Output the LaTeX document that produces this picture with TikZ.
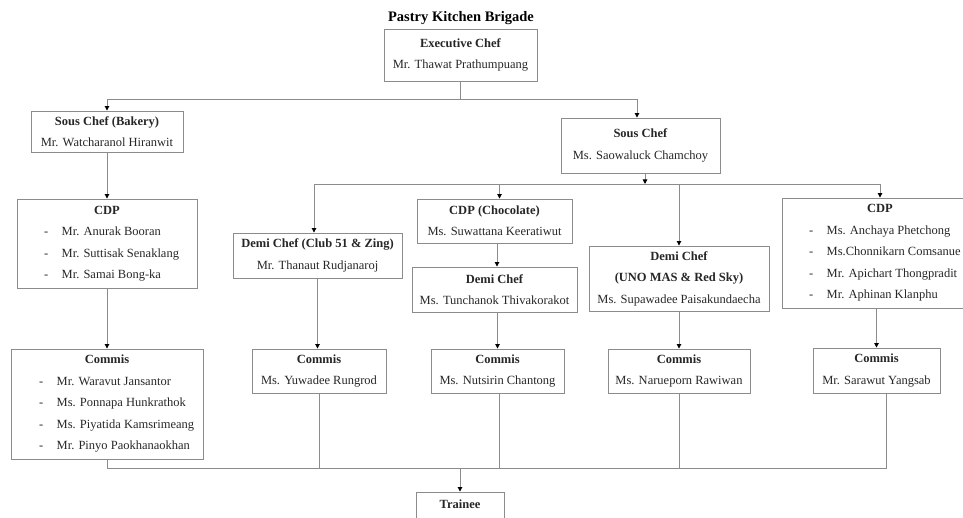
\documentclass[tikz,border=0pt]{standalone}
\usepackage{fontspec}
\setmainfont{Liberation Serif}
\usepackage{tikz}
\usetikzlibrary{arrows.meta}
\tikzstyle{role}=[rectangle, draw=black!45, line width=0.9pt, align=center, inner sep=0pt, text=black!85, font=\fontsize{12.5}{21.5}\selectfont]
\tikzstyle{link}=[draw=black!45, line width=0.9pt]
\tikzstyle{feed}=[link, -{Triangle[length=4.5pt, width=4.5pt, color=black]}]
\newcommand{\member}[2]{\makebox[#1][l]{-\hspace{13.5pt}#2}}

\begin{document}
\begin{tikzpicture}[x=1pt, y=-1pt]
      \useasboundingbox (0,0) rectangle (963,518);
      \clip (0,0) rectangle (963,518);

      \node (title) at (461,22) [anchor=base, font=\fontsize{14.5}{17}\selectfont\bfseries] {Pastry Kitchen Brigade};

      % top of the brigade
      \node[role] (exec) at (460.5,55) [minimum width=153pt, minimum height=52pt] {\textbf{Executive Chef}\\Mr. Thawat Prathumpuang};
      \node[role] (sousB) at (107,131.5) [minimum width=152pt, minimum height=41pt] {\textbf{Sous Chef (Bakery)}\\Mr. Watcharanol Hiranwit};
      \node[role] (sous) at (640.5,145.5) [minimum width=159pt, minimum height=55pt] {\textbf{Sous Chef}\\Ms. Saowaluck Chamchoy};

      % chefs de partie and demi chefs
      \node[role] (cdpB) at (107,243.5) [minimum width=180pt, minimum height=89pt] {\textbf{CDP}\\\member{126pt}{Mr. Anurak Booran}\\\member{126pt}{Mr. Suttisak Senaklang}\\\member{126pt}{Mr. Samai Bong-ka}};
      \node[role] (demiClub) at (317.5,255.5) [minimum width=169pt, minimum height=45pt] {\textbf{Demi Chef (Club 51 \& Zing)}\\Mr. Thanaut Rudjanaroj};
      \node[role] (cdpChoc) at (494.5,221) [minimum width=155pt, minimum height=44pt] {\textbf{CDP (Chocolate)}\\Ms. Suwattana Keeratiwut};
      \node[role] (demiChoc) at (494.5,289.5) [minimum width=165pt, minimum height=45pt] {\textbf{Demi Chef}\\Ms. Tunchanok Thivakorakot};
      \node[role] (demiUno) at (679,278.5) [minimum width=180pt, minimum height=65pt] {\textbf{Demi Chef}\\\textbf{(UNO MAS \& Red Sky)}\\Ms. Supawadee Paisakundaecha};
      \node[role] (cdpR) at (880,253) [minimum width=196pt, minimum height=110pt] {\textbf{CDP}\\\member{142pt}{Ms. Anchaya Phetchong}\\\member{142pt}{Ms.Chonnikarn Comsanue}\\\member{142pt}{Mr. Apichart Thongpradit}\\\member{142pt}{Mr. Aphinan Klanphu}};

      % commis row
      \node[role] (comB) at (107,404) [minimum width=192pt, minimum height=110pt] {\textbf{Commis}\\\member{136pt}{Mr. Waravut Jansantor}\\\member{136pt}{Ms. Ponnapa Hunkrathok}\\\member{136pt}{Ms. Piyatida Kamsrimeang}\\\member{136pt}{Mr. Pinyo Paokhanaokhan}};
      \node[role] (comClub) at (319,371) [minimum width=134pt, minimum height=44pt] {\textbf{Commis}\\Ms. Yuwadee Rungrod};
      \node[role] (comChoc) at (497.5,371) [minimum width=133pt, minimum height=44pt] {\textbf{Commis}\\Ms. Nutsirin Chantong};
      \node[role] (comUno) at (679,371) [minimum width=142pt, minimum height=44pt] {\textbf{Commis}\\Ms. Narueporn Rawiwan};
      \node[role] (comR) at (876.5,370.5) [minimum width=127pt, minimum height=45pt] {\textbf{Commis}\\Mr. Sarawut Yangsab};

      \node[role] (trainee) at (460,514) [minimum width=88pt, minimum height=44pt, text height=8.6pt, text depth=20.6pt] {\textbf{Trainee}};

      % connectors
      \coordinate (topbus) at (460.5,99);
      \coordinate (midbus) at (645,184);
      \coordinate (lowbus) at (460,468);

      \draw[link] (exec.south) -- (topbus);
      \draw[feed] (topbus) -| (sousB.north);
      \draw[feed] (topbus) -| ([xshift=-3.5pt]sous.north);
      \draw[feed] (sousB.south) -- (cdpB.north);

      \draw[feed] (sous.south -| midbus) -- (midbus);
      \draw[link] ([xshift=-3.5pt]demiClub.north |- midbus) -- (cdpR.north |- midbus);
      \draw[feed] ([xshift=-3.5pt]demiClub.north |- midbus) -- ([xshift=-3.5pt]demiClub.north);
      \draw[feed] ([xshift=5pt]cdpChoc.north |- midbus) -- ([xshift=5pt]cdpChoc.north);
      \draw[feed] (demiUno.north |- midbus) -- (demiUno.north);
      \draw[feed] (cdpR.north |- midbus) -- (cdpR.north);

      \draw[feed] ([xshift=2.5pt]cdpChoc.south) -- ([xshift=2.5pt]cdpChoc.south |- demiChoc.north);
      \draw[feed] (cdpB.south) -- (comB.north);
      \draw[feed] (demiClub.south) -- (demiClub.south |- comClub.north);
      \draw[feed] (comChoc.north |- demiChoc.south) -- (comChoc.north);
      \draw[feed] (demiUno.south) -- (comUno.north);
      \draw[feed] (comR.north |- cdpR.south) -- (comR.north);

      \draw[link] (comB.south) |- ([xshift=10pt]comR.south |- lowbus) -- ([xshift=10pt]comR.south);
      \draw[link] (comClub.south) -- (comClub.south |- lowbus);
      \draw[link] ([xshift=1.5pt]comChoc.south) -- ([xshift=1.5pt]comChoc.south |- lowbus);
      \draw[link] (comUno.south) -- (comUno.south |- lowbus);
      \draw[feed] (lowbus) -- (trainee.north);
\end{tikzpicture}
\end{document}
